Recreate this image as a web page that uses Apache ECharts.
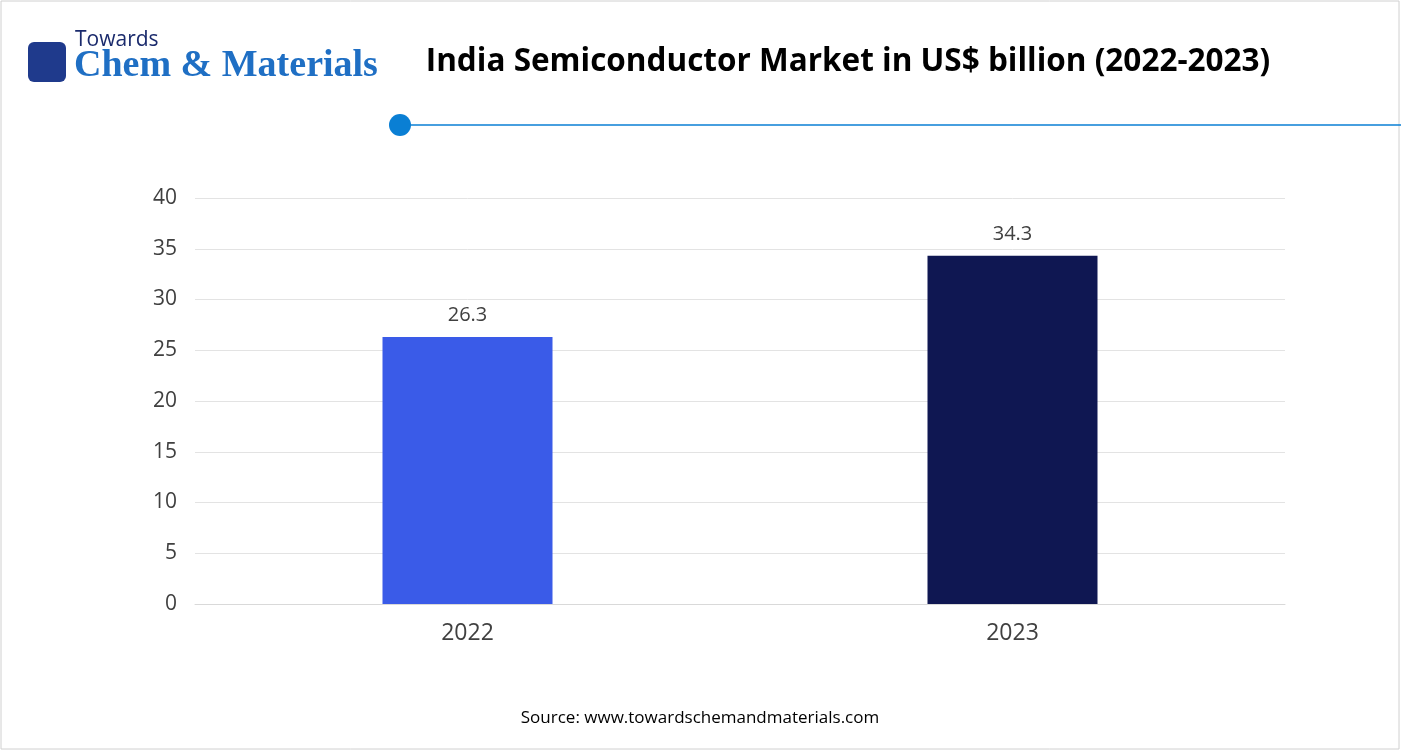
<!DOCTYPE html>
<html><head><meta charset="utf-8">
<script src="https://cdn.jsdelivr.net/npm/echarts@6/dist/echarts.min.js"></script>
<style>html,body{margin:0;padding:0;background:#fff}#c{width:1401px;height:751px}</style>
</head><body><div id="c"></div>
<script>
const categories = ['2022', '2023'];
const values = [26.3, 34.3];
const barColors = ['#3a5be8', '#0f1752'];
const chart = echarts.init(document.getElementById('c'));
chart.setOption({
  animation: false,
  backgroundColor: '#fff',
  graphic: [
    {type:'rect', shape:{x:1,y:1,width:1398,height:748}, style:{fill:'none', stroke:'#d0d0d0', lineWidth:1}},
    {type:'text', style:{x:75, y:30, text:'Towards', font:'21px "Open Sans", sans-serif', fill:'#1a2a6c'}},
    {type:'text', style:{x:74, y:47, text:'Chem & Materials', font:'bold 38px "Liberation Serif", serif', fill:'#1f6fc4'}},
    {type:'rect', shape:{x:28,y:42,width:38,height:40,r:6}, style:{fill:'#1f3a8c'}},
    {type:'text', style:{x:848, y:62, text:'India Semiconductor Market in US$ billion (2022-2023)', font:'bold 31.5px "Open Sans", sans-serif', fill:'#000', align:'center', verticalAlign:'middle'}},
    {type:'line', shape:{x1:400,y1:125,x2:1401,y2:125}, style:{stroke:'#0a7fd4', lineWidth:1.5}},
    {type:'circle', shape:{cx:400,cy:125,r:11}, style:{fill:'#0a7fd4'}},
    {type:'text', style:{x:700, y:718, text:'Source: www.towardschemandmaterials.com', font:'17px "Open Sans", sans-serif', fill:'#000', align:'center', verticalAlign:'middle'}}
  ],
  grid: {left:195, right:116, top:198, bottom:147},
  xAxis: {type:'category', data:categories,
    axisLine:{lineStyle:{color:'#d9d9d9'}}, axisTick:{show:false},
    axisLabel:{fontSize:23, color:'#404040', margin:18, fontFamily:'"Open Sans", sans-serif'}},
  yAxis: {type:'value', min:0, max:40, interval:5,
    axisLine:{show:false}, axisTick:{show:false},
    splitLine:{lineStyle:{color:'#e3e3e3'}},
    axisLabel:{fontSize:21, color:'#404040', margin:18, fontFamily:'"Open Sans", sans-serif'}},
  series: [{type:'bar', barWidth:170,
    data: values.map((v,i)=>({value:v, itemStyle:{color:barColors[i]}})),
    label:{show:true, position:'top', distance:12, fontSize:20, color:'#404040', fontFamily:'"Open Sans", sans-serif'}}]
});
</script></body></html>
